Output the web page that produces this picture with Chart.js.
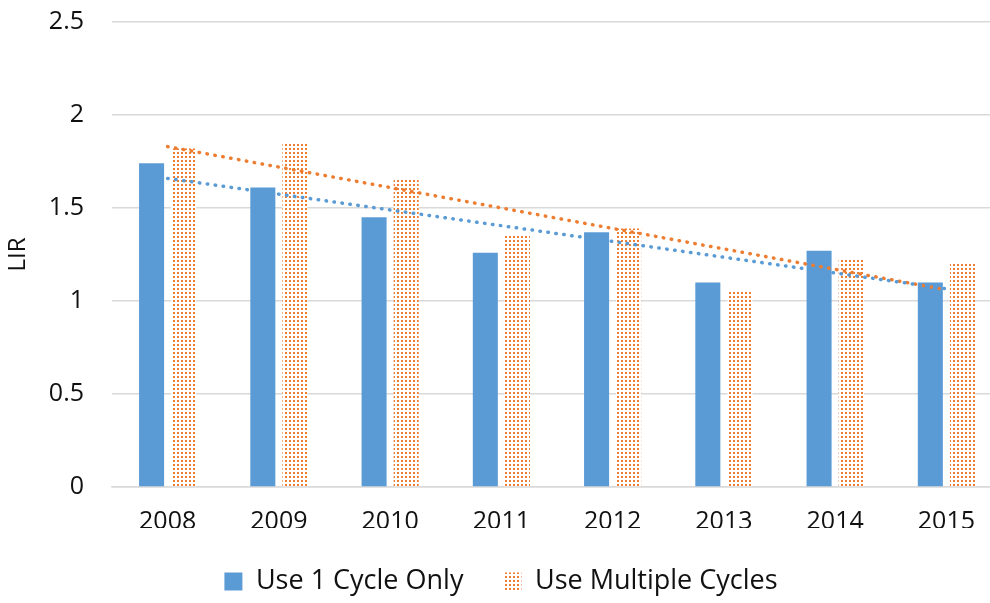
<!DOCTYPE html>
<html>
<head>
<meta charset="utf-8">
<script src="https://cdn.jsdelivr.net/npm/chart.js@4.4.1/dist/chart.umd.min.js"></script>
<style>
  html, body { margin: 0; padding: 0; background: #fff; overflow: hidden; }
  #wrap { position: relative; top: -21px; width: 1002px; height: 624px; }
</style>
</head>
<body>
<div id="wrap"><canvas id="lir"></canvas></div>
<script>
// ── LIR by year ──
// Single cycle vs multiple cycles, each with a linear trendline.

const years = ['2008', '2009', '2010', '2011', '2012', '2013', '2014', '2015'];
const oneCycle = [1.74, 1.61, 1.45, 1.26, 1.37, 1.10, 1.27, 1.10];
const multiCycles = [1.82, 1.85, 1.66, 1.36, 1.39, 1.05, 1.23, 1.20];
const yTicks = [0, 0.5, 1, 1.5, 2, 2.5];

const BLUE = '#5B9BD5';
const ORANGE = '#ED7D31';
const FONT = "'Open Sans', sans-serif";

// least squares line over the category index
function trend(vals) {
  const n = vals.length;
  const mx = (n - 1) / 2;
  const my = vals.reduce((a, b) => a + b, 0) / n;
  let sxy = 0, sxx = 0;
  vals.forEach((v, i) => { sxy += (i - mx) * (v - my); sxx += (i - mx) * (i - mx); });
  const k = sxy / sxx;
  return vals.map((_, i) => my + k * (i - mx));
}

// small dot fill like the office pattern
function dotPattern(color) {
  const c = document.createElement('canvas');
  c.width = 4; c.height = 4;
  const g = c.getContext('2d');
  g.fillStyle = '#fff';
  g.fillRect(0, 0, 4, 4);
  g.fillStyle = color;
  g.fillRect(1, 1, 2, 2);
  return c.getContext('2d').createPattern(c, 'repeat');
}
const orangeDots = dotPattern(ORANGE);

const trendStyle = color => ({
  type: 'line', borderColor: color, borderWidth: 3.5,
  borderDash: [0.5, 7.5], borderCapStyle: 'round',
  pointRadius: 0, fill: false, tension: 0, order: 0
});

new Chart(document.getElementById('lir'), {
  type: 'bar',
  data: {
    labels: years,
    datasets: [
      { label: 'Use 1 Cycle Only', data: oneCycle, backgroundColor: BLUE,
        categoryPercentage: 0.577, barPercentage: 0.78, order: 1 },
      { label: 'Use Multiple Cycles', data: multiCycles, backgroundColor: orangeDots,
        categoryPercentage: 0.577, barPercentage: 0.78, order: 1 },
      Object.assign({ label: 'trend1', data: trend(oneCycle) }, trendStyle(BLUE)),
      Object.assign({ label: 'trend2', data: trend(multiCycles) }, trendStyle(ORANGE))
    ]
  },
  options: {
    responsive: true, maintainAspectRatio: false, animation: false,
    layout: { padding: 0 },
    plugins: {
      tooltip: { enabled: false },
      legend: {
        position: 'bottom',
        maxHeight: 75,
        labels: {
          color: '#111', font: { family: FONT, size: 27 },
          boxWidth: 18, boxHeight: 18, padding: 40,
          filter: item => !item.text.startsWith('trend')
        }
      }
    },
    scales: {
      x: {
        grid: { display: false, drawTicks: false },
        border: { color: '#D9D9D9', width: 1.5 },
        ticks: { color: '#111', font: { family: FONT, size: 25 }, padding: 20 },
        afterFit: s => { s.height = 41; }
      },
      y: {
        min: 0, max: 2.5,
        afterBuildTicks: s => { s.ticks = yTicks.map(v => ({ value: v })); },
        grid: { color: '#D9D9D9', lineWidth: 1.5, drawTicks: false },
        border: { display: false },
        ticks: { color: '#111', font: { family: FONT, size: 25 }, padding: 28, callback: v => String(v) },
        title: { display: true, text: 'LIR', color: '#111', font: { family: FONT, size: 24 }, padding: 4 },
        afterFit: s => { s.width = 112; }
      }
    }
  }
});
</script>
</body>
</html>
